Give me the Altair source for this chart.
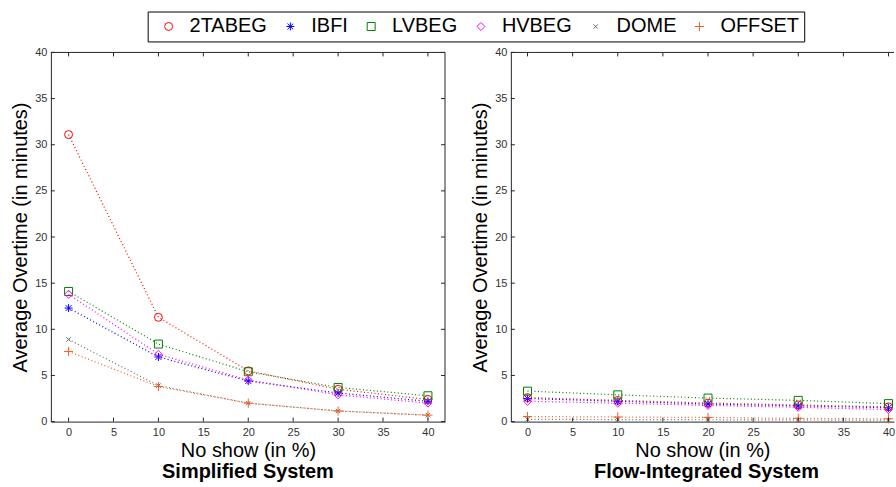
import altair as alt
import pandas as pd

# ---------------- data ----------------
no_show = [0, 10, 20, 30, 40]
series_names = ["2TABEG", "IBFI", "LVBEG", "HVBEG", "DOME", "OFFSET"]

# Simplified System
simp_2tabeg = [31.1, 11.3, 5.5, 3.5, 2.4]
simp_ibfi = [12.3, 7.0, 4.4, 3.1, 2.2]
simp_lvbeg = [14.1, 8.4, 5.4, 3.7, 2.8]
simp_hvbeg = [13.8, 7.3, 4.5, 2.9, 2.0]
simp_dome = [8.9, 3.9, 2.0, 1.15, 0.7]
simp_offset = [7.6, 3.8, 2.0, 1.15, 0.7]

# Flow-Integrated System
flow_2tabeg = [2.6, 2.3, 2.0, 1.8, 1.6]
flow_ibfi = [2.5, 2.2, 1.9, 1.7, 1.5]
flow_lvbeg = [3.3, 2.9, 2.55, 2.3, 1.95]
flow_hvbeg = [2.2, 2.0, 1.75, 1.55, 1.3]
flow_dome = [0.25, 0.22, 0.2, 0.18, 0.15]
flow_offset = [0.55, 0.5, 0.45, 0.35, 0.3]

x_ticks = [0, 5, 10, 15, 20, 25, 30, 35, 40]
y_ticks = [0, 5, 10, 15, 20, 25, 30, 35, 40]

colors = ["#FF0000", "#0000FF", "#008000", "#FF00FF", "#5A7570", "#FF5A1E"]
shapes = [
    "circle",
    "M-1,0H1M0,-1V1M-0.72,-0.72L0.72,0.72M-0.72,0.72L0.72,-0.72",
    "square",
    "diamond",
    "M-0.55,-0.55L0.55,0.55M-0.55,0.55L0.55,-0.55",
    "M-1.15,0H1.15M0,-1.15V1.15",
]

simp = [simp_2tabeg, simp_ibfi, simp_lvbeg, simp_hvbeg, simp_dome, simp_offset]
flow = [flow_2tabeg, flow_ibfi, flow_lvbeg, flow_hvbeg, flow_dome, flow_offset]


def long_df(vals):
    rows = []
    for name, v in zip(series_names, vals):
        for x, y in zip(no_show, v):
            rows.append({"noshow": x, "value": y, "series": name})
    return pd.DataFrame(rows)


df_simp = long_df(simp)
df_flow = long_df(flow)
xt = pd.DataFrame({"t": x_ticks})
yt = pd.DataFrame({"t": y_ticks})
one = pd.DataFrame({"t": [0]})

FONT = "Liberation Sans"
AX = "#262626"
H = 370

color_scale = alt.Scale(domain=series_names, range=colors)
shape_scale = alt.Scale(domain=series_names, range=shapes)

legend = alt.Legend(
    title=" ", titleOrient="left", titleFontSize=20, titlePadding=6,
    orient="none", legendX=97, legendY=-41,
    direction="horizontal", columns=6,
    strokeColor="black", fillColor="white", padding=5,
    labelFont=FONT, labelFontSize=20, labelColor="black",
    labelOffset=11, columnPadding=13, symbolSize=64,
    symbolStrokeWidth=1, labelLimit=200)


def panel(df, title, width, xmin, xmax, right_frame=True):
    xs = alt.Scale(domain=[xmin, xmax], nice=False, zero=False)
    ys = alt.Scale(domain=[0, 40], nice=False)
    xaxis = alt.Axis(values=x_ticks, format="d", title="No show (in %)", grid=False,
                     tickSize=0, labelPadding=5, labelFontSize=11, labelFont=FONT,
                     labelColor="#333333", titleFont=FONT, titleFontSize=20,
                     titleFontWeight="normal", titleColor="black", titlePadding=3,
                     domainColor=AX)
    yaxis = alt.Axis(values=y_ticks, format="d", title="Average Overtime (in minutes)",
                     grid=False, tickSize=0, labelPadding=4, labelFontSize=11,
                     labelFont=FONT, labelColor="#333333", titleFont=FONT,
                     titleFontSize=20, titleFontWeight="normal", titleColor="black",
                     titlePadding=4, domainColor=AX)
    x = alt.X("noshow:Q", scale=xs, axis=xaxis)
    y = alt.Y("value:Q", scale=ys, axis=yaxis)

    lines = alt.Chart(df).mark_line(strokeDash=[1, 2.5], strokeWidth=1.2).encode(
        x=x, y=y,
        color=alt.Color("series:N", scale=color_scale, legend=legend),
        detail="series:N",
    )
    pts = alt.Chart(df).mark_point(filled=False, size=64, strokeWidth=1, opacity=1).encode(
        x=x, y=y,
        color=alt.Color("series:N", scale=color_scale, legend=legend),
        shape=alt.Shape("series:N", scale=shape_scale, legend=legend),
    )
    xe = alt.X("t:Q", scale=xs)
    ye = alt.Y("t:Q", scale=ys)
    tb = alt.Chart(xt).mark_rule(color=AX, strokeWidth=1).encode(
        x=xe, y=alt.value(H), y2=alt.value(H - 4))
    tt = alt.Chart(xt).mark_rule(color=AX, strokeWidth=1).encode(
        x=xe, y=alt.value(0), y2=alt.value(4))
    tl = alt.Chart(yt).mark_rule(color=AX, strokeWidth=1).encode(
        y=ye, x=alt.value(0), x2=alt.value(4))
    top_line = alt.Chart(one).mark_rule(color=AX, strokeWidth=1).encode(
        x=alt.value(0), x2=alt.value(width), y=alt.value(0))
    layers = [lines, pts, tb, tt, tl, top_line]
    if right_frame:
        tr = alt.Chart(yt).mark_rule(color=AX, strokeWidth=1).encode(
            y=ye, x=alt.value(width), x2=alt.value(width - 4))
        right_line = alt.Chart(one).mark_rule(color=AX, strokeWidth=1).encode(
            x=alt.value(width), y=alt.value(0), y2=alt.value(H))
        layers += [tr, right_line]
    return alt.layer(*layers).properties(
        width=width, height=H,
        view=alt.ViewBackground(stroke="transparent"),
        title=alt.TitleParams(text=title, orient="bottom", anchor="middle",
                              fontSize=20, fontWeight="bold", font=FONT,
                              color="black", offset=2, dx=(4 if not right_frame else 0)),
    )


left = panel(df_simp, "Simplified System", 395, -1.97, 41.9)
right = panel(df_flow, "Flow-Integrated System", 384, -1.846, 40.61, right_frame=False)

chart = alt.hconcat(left, right, spacing=66, bounds="flush").resolve_scale(
    color="shared", shape="shared"
).properties(
    padding={"left": 10, "top": 10, "right": 0, "bottom": 4},
    background="white",
).configure_view(stroke="transparent")

chart.save("out.html", embed_options={"renderer": "svg", "actions": False})
